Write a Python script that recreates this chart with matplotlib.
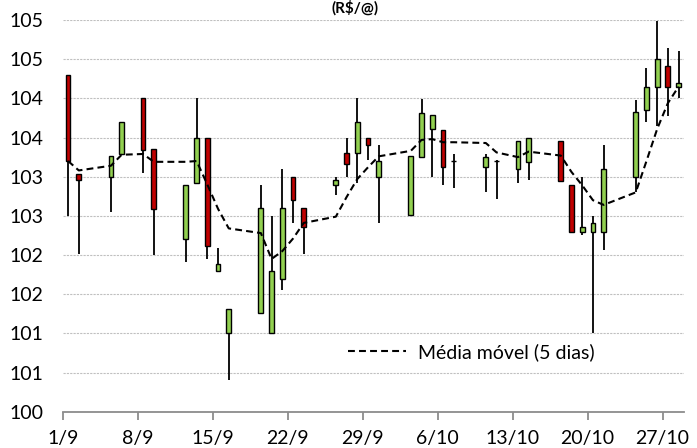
import matplotlib
matplotlib.use('Agg')
import matplotlib.pyplot as plt
import matplotlib.dates as mdates
from matplotlib.ticker import FuncFormatter, MultipleLocator
import pandas as pd

# trading days (2016) and daily prices (R$/@)
dates = ['2016-09-01', '2016-09-02', '2016-09-05', '2016-09-06', '2016-09-08',
         '2016-09-09', '2016-09-12', '2016-09-13', '2016-09-14', '2016-09-15',
         '2016-09-16', '2016-09-19', '2016-09-20', '2016-09-21', '2016-09-22',
         '2016-09-23', '2016-09-26', '2016-09-27', '2016-09-28', '2016-09-29',
         '2016-09-30', '2016-10-03', '2016-10-04', '2016-10-05', '2016-10-06',
         '2016-10-07', '2016-10-10', '2016-10-11', '2016-10-13', '2016-10-14',
         '2016-10-17', '2016-10-18', '2016-10-19', '2016-10-20', '2016-10-21',
         '2016-10-24', '2016-10-25', '2016-10-26', '2016-10-27', '2016-10-28']

abertura = [104.30, 103.03, 103.00, 103.29, 104.00, 103.35, 102.21, 102.92, 103.50, 101.80,
            101.00, 101.26, 101.01, 101.70, 103.00, 102.60, 102.90, 103.30, 103.30, 103.50,
            103.00, 102.51, 103.25, 103.61, 103.59, 103.20, 103.12, 103.20, 103.10, 103.19,
            103.45, 102.90, 102.30, 102.29, 102.30, 103.00, 103.85, 104.14, 104.41, 104.14]
maxima = [104.30, 103.03, 103.26, 103.70, 104.00, 103.35, 102.90, 104.00, 103.50, 102.09,
          101.31, 102.90, 102.50, 103.10, 103.00, 102.60, 102.99, 103.49, 104.00, 103.50,
          103.40, 103.26, 103.99, 103.79, 103.59, 103.29, 103.29, 103.21, 103.45, 103.50,
          103.45, 102.90, 102.99, 102.50, 103.40, 103.98, 104.39, 104.99, 104.64, 104.60]
minima = [102.50, 102.01, 102.55, 103.29, 103.05, 102.00, 101.91, 102.91, 101.95, 101.80,
          100.40, 101.26, 101.01, 101.55, 102.41, 102.01, 102.77, 103.00, 102.92, 103.21,
          102.41, 102.51, 103.25, 103.00, 102.90, 102.85, 102.80, 102.72, 102.92, 102.96,
          102.95, 102.30, 102.26, 101.00, 102.07, 102.80, 103.70, 103.65, 103.77, 104.00]
fechamento = [103.20, 102.96, 103.26, 103.70, 103.34, 102.59, 102.90, 103.50, 102.12, 101.89,
              101.31, 102.60, 101.80, 102.60, 102.70, 102.36, 102.96, 103.16, 103.70, 103.40,
              103.20, 103.26, 103.81, 103.79, 103.12, 103.20, 103.25, 103.20, 103.45, 103.50,
              102.95, 102.30, 102.36, 102.41, 103.10, 103.82, 104.15, 104.50, 104.14, 104.20]
media_movel = [103.20, 103.08, 103.14, 103.28, 103.29, 103.19, 103.19, 103.20, 102.90, 102.59,
               102.34, 102.28, 101.95, 102.05, 102.21, 102.41, 102.49, 102.74, 102.97, 103.12,
               103.26, 103.33, 103.47, 103.48, 103.44, 103.44, 103.43, 103.31, 103.25, 103.32,
               103.27, 103.06, 102.89, 102.70, 102.64, 102.80, 103.20, 103.61, 103.94, 104.15]

plt.rcParams['font.family'] = ['Lato', 'DejaVu Sans']

fig = plt.figure(figsize=(6.97, 4.48), dpi=100)
ax = fig.add_axes([0.09, 0.081, 0.8913, 0.8743])

dias = pd.to_datetime(dates)
x = mdates.date2num(dias) + 0.5  # candles centred inside each day

verde = '#92D050'
vermelho = '#C00000'
for xi, o, h, l, c in zip(x, abertura, maxima, minima, fechamento):
    ax.vlines(xi, l, h, color='black', lw=1.3, zorder=2)
    cor = verde if c >= o else vermelho
    ax.bar(xi, abs(c - o), bottom=min(o, c), width=0.45, color=cor,
           edgecolor='black', linewidth=1.0, zorder=3)

ax.plot(x, media_movel, color='black', lw=1.5, dashes=(3.3, 2.0), zorder=4,
        label='Média móvel (5 dias)')

inicio = mdates.date2num(pd.Timestamp('2016-09-01'))
fim = mdates.date2num(pd.Timestamp('2016-10-29'))
ax.set_xlim(inicio, fim)
ax.set_ylim(100, 105)

ax.xaxis.set_major_locator(MultipleLocator(7, offset=inicio % 7))
ax.xaxis.set_major_formatter(FuncFormatter(
    lambda v, p: '%d/%d' % (mdates.num2date(v).day, mdates.num2date(v).month)))
ax.yaxis.set_major_locator(MultipleLocator(0.5))
ax.yaxis.set_major_formatter(FuncFormatter(lambda v, p: '%d' % int(v + 0.5)))

ax.grid(axis='y', color='#c0c0c0', ls=(0, (2, 1)), lw=0.8)
ax.set_axisbelow(True)
for s in ['top', 'right', 'left']:
    ax.spines[s].set_visible(False)
ax.spines['bottom'].set_color('#8c8c8c')
ax.spines['bottom'].set_linewidth(1.3)
ax.tick_params(axis='x', direction='out', length=6, width=1.3, color='#8c8c8c',
               labelsize=14, pad=7)
ax.tick_params(axis='y', length=0, labelsize=14, pad=14)

ax.legend(loc='center', bbox_to_anchor=(0.657, 0.152), frameon=False, fontsize=14,
          handlelength=3.0, handletextpad=0.6)

fig.text(0.51, 0.999, '(R$/@)', ha='center', va='top', fontsize=11, fontweight='bold')

fig.savefig('out.png', dpi=100)
